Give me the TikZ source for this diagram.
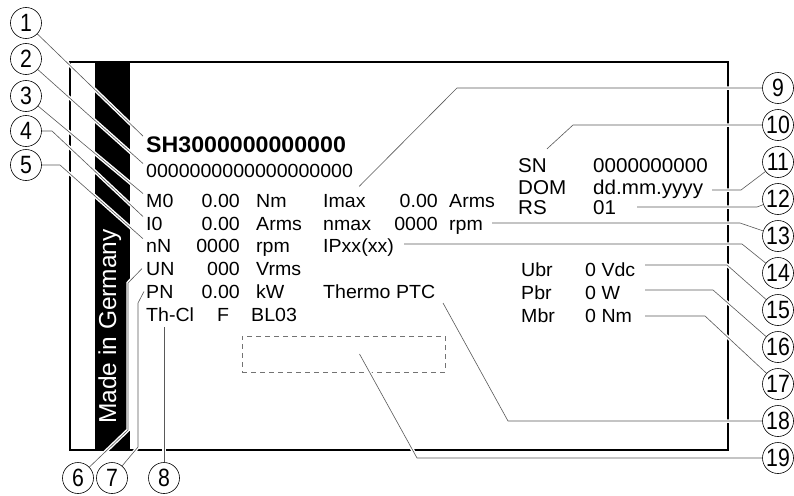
\documentclass[tikz,border=0pt]{standalone}
\usepackage{fontspec}
\setmainfont{Liberation Sans}[FakeStretch=1.03]
\newfontfamily\barfont{Liberation Sans}
\newfontfamily\numfont{Liberation Sans}[FakeStretch=0.85]
\usetikzlibrary{calc, positioning}
\tikzset{>=stealth}
\pgfdeclarelayer{bg}
\pgfsetlayers{bg,main}

\begin{document}
\begin{tikzpicture}[x=1pt, y=-1pt,
    lbl/.style={inner sep=0pt, anchor=base west, font=\fontsize{19}{22}\selectfont},
    val/.style={lbl, anchor=base east},
    big/.style={lbl, font=\fontsize{20}{23}\selectfont},
    callout/.style={circle, draw, fill=white, line width=0.6pt, minimum size=31pt, inner sep=0pt, font=\numfont\fontsize{25}{25}\selectfont},
    leader/.style={draw=black!65, line width=0.6pt, preaction={draw=white, line width=3.5pt}}]
	\useasboundingbox (0,0) rectangle (794,495);

	% callouts
	\node[callout] (c1) at (26,23) {1};
	\node[callout] (c2) at (26,59) {2};
	\node[callout] (c3) at (26,96) {3};
	\node[callout] (c4) at (26,131) {4};
	\node[callout] (c5) at (26,165) {5};
	\node[callout] (c6) at (78,478) {6};
	\node[callout] (c7) at (112,478) {7};
	\node[callout] (c8) at (164,478) {8};
	\node[callout] (c9) at (778,88) {9};
	\node[callout] (c10) at (778,125) {10};
	\node[callout] (c11) at (778,162) {11};
	\node[callout] (c12) at (778,199) {12};
	\node[callout] (c13) at (778,236) {13};
	\node[callout] (c14) at (778,273) {14};
	\node[callout] (c15) at (778,310) {15};
	\node[callout] (c16) at (778,347) {16};
	\node[callout] (c17) at (778,384) {17};
	\node[callout] (c18) at (778,421) {18};
	\node[callout] (c19) at (778,458) {19};

	% plate text
	\node[rotate=90, anchor=base west, inner sep=0pt, text=white, font=\barfont\fontsize{24.5}{24.5}\selectfont] (made) at (116,424) {Made in Germany};
	\node[lbl, font=\bfseries\fontsize{22.5}{25}\selectfont] (type) at (146,152) {SH3000000000000};
	\node[lbl] (ident) at (146,177) {0000000000000000000};
	\node[lbl] (m0) at (146,207) {M0};   \node[val] (m0v) at (240,207) {0.00}; \node[lbl] (m0u) at (256,207) {Nm};
	\node[lbl] (i0) at (146,230) {I0};   \node[val] (i0v) at (240,230) {0.00}; \node[lbl] (i0u) at (256,230) {Arms};
	\node[lbl] (nn) at (146,252) {nN};   \node[val] (nnv) at (240,252) {0000}; \node[lbl] (nnu) at (256,252) {rpm};
	\node[lbl] (un) at (146,275) {UN};   \node[val] (unv) at (240,275) {000};  \node[lbl] (unu) at (256,275) {Vrms};
	\node[lbl] (pn) at (146,298) {PN};   \node[val] (pnv) at (240,298) {0.00}; \node[lbl] (pnu) at (256,298) {kW};
	\node[lbl] (thcl) at (146,321) {Th-Cl}; \node[lbl] (ins) at (217,321) {F}; \node[lbl] (bl) at (251,321) {BL03};
	\node[lbl] (imax) at (323,207) {Imax}; \node[val] (imaxv) at (438,207) {0.00}; \node[lbl] (imaxu) at (449,207) {Arms};
	\node[lbl] (nmax) at (323,230) {nmax}; \node[val] (nmaxv) at (438,230) {0000}; \node[lbl] (nmaxu) at (449,230) {rpm};
	\node[lbl] (ip) at (323,252) {IPxx(xx)};
	\node[lbl] (thermo) at (323,298) {Thermo PTC};
	\node[big] (sn) at (518,172) {SN};  \node[big] (snv) at (593,172) {0000000000};
	\node[big] (dom) at (518,194) {DOM}; \node[big] (domv) at (593,194) {dd.mm.yyyy};
	\node[big] (rs) at (518,214) {RS};  \node[big] (rsv) at (593,214) {01};
	\node[lbl] (ubr) at (521,276) {Ubr}; \node[lbl] (ubrv) at (585,276) {0 Vdc};
	\node[lbl] (pbr) at (521,299) {Pbr}; \node[lbl] (pbrv) at (585,299) {0 W};
	\node[lbl] (mbr) at (521,322) {Mbr}; \node[lbl] (mbrv) at (585,322) {0 Nm};

	\begin{pgfonlayer}{bg}
	\fill (95,62) rectangle (130,450); % black strip
	\draw[line width=2pt] (70,62) rectangle (728,450);
	\node[draw=black!55, line width=0.6pt, dash pattern=on 5pt off 4pt, minimum width=203pt, minimum height=36pt, inner sep=0pt] (plate) at (343.5,354) {};

	% leaders, left
	\draw[leader] (c1) -- ([xshift=-3pt]type.north west);
	\draw[leader] (c2) -- ([xshift=-3pt]ident.north west);
	\draw[leader] (c3) -- ([xshift=-3pt]m0.north west);
	\draw[leader] (c4) -- (52,131) -- ([xshift=-3pt]i0.north west);
	\draw[leader] (c5) -- (60,165) -- ([xshift=-3pt]nn.north west);
	\draw[leader] (c6) -- (128,430) -- (128,283) -- ([xshift=-4pt]un.west);
	\draw[leader] (c7) -- (138,447) -- (138,303) -- ([xshift=-2pt]pn.west);
	\draw[leader] (c8) -- ([yshift=-6pt]c8 |- thcl.south);
	% leaders, right
	\draw[leader] (c9) -- (457,88) -- ([xshift=6pt,yshift=-9pt]ident.south east);
	\draw[leader] (c10) -- (573,125) -- ([yshift=9pt]sn.north east);
	\draw[leader] (c11) -- (741,190) -- (712,190);
	\draw[leader] (c12) -- (757,207) -- (637,207);
	\draw[leader] (c13) -- (740,223) -- (492,223);
	\draw[leader] (c14) -- (742,244) -- (404,244);
	\draw[leader] (c15) -- (727,265) -- (645,265);
	\draw[leader] (c16) -- (713,290) -- (645,290);
	\draw[leader] (c17) -- (705,316) -- (645,316);
	\draw[leader] (c18) -- (508,421) -- (443,303);
	\draw[leader] (c19) -- (417,458) -- ([xshift=16pt]plate.center);
	\end{pgfonlayer}
\end{tikzpicture}
\end{document}
